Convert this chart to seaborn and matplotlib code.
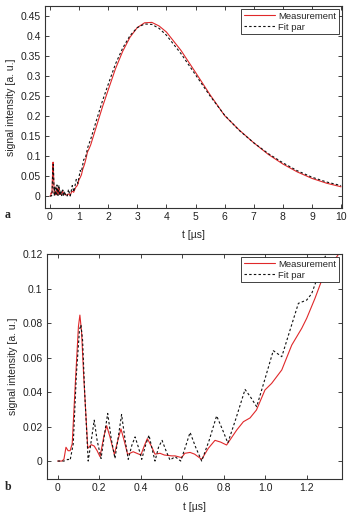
import numpy as np
import pandas as pd
import seaborn as sns
import matplotlib
matplotlib.use("Agg")
import matplotlib.pyplot as plt

# ---- data ----
t_meas = [0.0, 0.02, 0.03, 0.04, 0.05, 0.06, 0.07, 0.085, 0.1, 0.107, 0.115, 0.125, 0.145,
          0.162, 0.176, 0.19, 0.204, 0.222, 0.236, 0.252, 0.273, 0.29, 0.305, 0.32, 0.337,
          0.364, 0.401, 0.418, 0.432, 0.45, 0.469, 0.493, 0.514, 0.55, 0.566, 0.597, 0.613,
          0.638, 0.66, 0.694, 0.726, 0.758, 0.785, 0.814, 0.846, 0.863, 0.895, 0.927, 0.958,
          0.999, 1.031, 1.08, 1.128, 1.176, 1.2, 1.24, 1.288, 1.345,
          1.4, 1.6, 1.8, 2.0, 2.25, 2.5, 2.75, 3.0, 3.25, 3.5, 3.75, 4.0, 4.5, 5.0, 5.5,
          6.0, 6.5, 7.0, 7.5, 8.0, 8.5, 9.0, 9.5, 10.0]
v_meas = [0.0, 0.0, 0.001, 0.008, 0.006, 0.006, 0.01, 0.045, 0.078, 0.0846, 0.075, 0.05, 0.0074,
          0.0095, 0.0087, 0.006, 0.0025, 0.014, 0.0205, 0.014, 0.0039, 0.012, 0.0186, 0.012, 0.0039,
          0.0054, 0.0035, 0.009, 0.013, 0.009, 0.004, 0.0045, 0.0035, 0.003, 0.003, 0.002, 0.0045,
          0.005, 0.004, 0.001, 0.0074, 0.012, 0.011, 0.0093, 0.015, 0.018, 0.0228, 0.025, 0.0296,
          0.0412, 0.045, 0.0528, 0.0672, 0.0769, 0.0827, 0.0943, 0.1097, 0.1184,
          0.128, 0.175, 0.222, 0.265, 0.318, 0.362, 0.397, 0.421, 0.433, 0.434, 0.425, 0.410,
          0.364, 0.309, 0.253, 0.201, 0.165, 0.133, 0.104, 0.080, 0.060, 0.044, 0.032, 0.023]

t_fit = [0.0, 0.03, 0.05, 0.06, 0.075, 0.09, 0.105, 0.112, 0.12, 0.13, 0.147, 0.162, 0.176,
         0.19, 0.209, 0.225, 0.241, 0.258, 0.276, 0.292, 0.308, 0.324, 0.34, 0.357, 0.373,
         0.389, 0.405, 0.423, 0.44, 0.455, 0.469, 0.486, 0.503, 0.522, 0.541, 0.566, 0.593,
         0.615, 0.638, 0.665, 0.694, 0.73, 0.766, 0.795, 0.82, 0.86, 0.903, 0.93, 0.959,
         1.0, 1.039, 1.08, 1.12, 1.16, 1.2, 1.224, 1.248, 1.3,
         1.4, 1.6, 1.8, 2.0, 2.25, 2.5, 2.75, 3.0, 3.25, 3.5, 3.75, 4.0, 4.5, 5.0, 5.5,
         6.0, 6.5, 7.0, 7.5, 8.0, 8.5, 9.0, 9.5, 10.0]
v_fit = [0.0, 0.0, 0.001, 0.0005, 0.01, 0.05, 0.076, 0.079, 0.07, 0.04, 0.0, 0.012, 0.0237,
         0.012, 0.0015, 0.015, 0.0276, 0.013, 0.0015, 0.014, 0.027, 0.013, 0.001, 0.009, 0.014,
         0.008, 0.001, 0.009, 0.015, 0.007, 0.0, 0.008, 0.012, 0.006, 0.0006, 0.0025, 0.0,
         0.008, 0.0166, 0.008, 0.0, 0.012, 0.0262, 0.018, 0.0105, 0.025, 0.0415, 0.037, 0.0315,
         0.048, 0.064, 0.0605, 0.076, 0.0914, 0.0933, 0.097, 0.105, 0.122,
         0.142, 0.190, 0.237, 0.279, 0.330, 0.370, 0.401, 0.421, 0.430, 0.429, 0.419, 0.402,
         0.356, 0.303, 0.250, 0.202, 0.164, 0.133, 0.106, 0.083, 0.063, 0.047, 0.035, 0.026]

series_names = ["Measurement", "Fit par"]

top_xticks = [0, 1, 2, 3, 4, 5, 6, 7, 8, 9, 10]
top_yticks = [0, 0.05, 0.1, 0.15, 0.2, 0.25, 0.3, 0.35, 0.4, 0.45]
top_ylabels = ["0", "0.05", "0.1", "0.15", "0.2", "0.25", "0.3", "0.35", "0.4", "0.45"]
bot_xticks = [0, 0.2, 0.4, 0.6, 0.8, 1.0, 1.2]
bot_xlabels = ["0", "0.2", "0.4", "0.6", "0.8", "1.0", "1.2"]
bot_yticks = [0, 0.02, 0.04, 0.06, 0.08, 0.1, 0.12]
bot_ylabels = ["0", "0.02", "0.04", "0.06", "0.08", "0.1", "0.12"]

df = pd.concat([
    pd.DataFrame({"t": t_meas, "v": v_meas, "series": series_names[0]}),
    pd.DataFrame({"t": t_fit, "v": v_fit, "series": series_names[1]}),
], ignore_index=True)

# ---- style ----
sns.set_theme(style="ticks")
plt.rcParams["font.family"] = ["Liberation Sans", "DejaVu Sans"]
plt.rcParams["axes.linewidth"] = 0.8
plt.rcParams["axes.edgecolor"] = "#333333"

fig = plt.figure(figsize=(3.5, 5.17), dpi=100)
ax1 = fig.add_axes([0.1286, 0.5977, 0.977 - 0.1286, 0.9884 - 0.5977])
ax2 = fig.add_axes([0.1334, 0.0735, 0.977 - 0.1334, 0.5087 - 0.0735])

palette = {"Measurement": "#e0282a", "Fit par": "#111111"}
dashes = {"Measurement": "", "Fit par": (2.2, 2.0)}

for ax in (ax1, ax2):
    sns.lineplot(data=df, x="t", y="v", hue="series", style="series",
                 palette=palette, dashes=dashes, estimator=None, sort=False,
                 linewidth=0.8, ax=ax)
    h, l = ax.get_legend_handles_labels()
    ax.legend(h, l, loc="upper right", fontsize=6.8, frameon=True, fancybox=False,
              edgecolor="#222222", framealpha=1, handlelength=3.2, handletextpad=0.4,
              borderpad=0.3, labelspacing=0.2, borderaxespad=0.3)
    ax.get_legend().get_frame().set_linewidth(0.6)
    ax.tick_params(direction="in", top=True, right=True, length=3, width=0.6,
                   labelsize=7.5, pad=3, colors="#222222")
    for s in ax.spines.values():
        s.set_visible(True)
    ax.set_xlabel("t [µs]", fontsize=7.5, labelpad=6)
    ax.set_ylabel("signal intensity [a. u.]", fontsize=7.5, labelpad=3)

ax1.set_xlim(-0.17, 10.03)
ax1.set_ylim(-0.03, 0.475)
ax1.set_xticks(top_xticks)
ax1.set_xticklabels([str(x) for x in top_xticks])
ax1.set_yticks(top_yticks)
ax1.set_yticklabels(top_ylabels)

ax2.set_xlim(-0.053, 1.37)
ax2.set_ylim(-0.0104, 0.12)
ax2.set_xticks(bot_xticks)
ax2.set_xticklabels(bot_xlabels)
ax2.set_yticks(bot_yticks)
ax2.set_yticklabels(bot_ylabels)

fig.text(5 / 350, 1 - 215 / 517, "a", fontsize=8.5, fontweight="bold",
         family=["Liberation Serif", "DejaVu Serif"], va="center", ha="left")
fig.text(5 / 350, 1 - 487 / 517, "b", fontsize=8.5, fontweight="bold",
         family=["Liberation Serif", "DejaVu Serif"], va="center", ha="left")

fig.savefig("out.png", dpi=100)
